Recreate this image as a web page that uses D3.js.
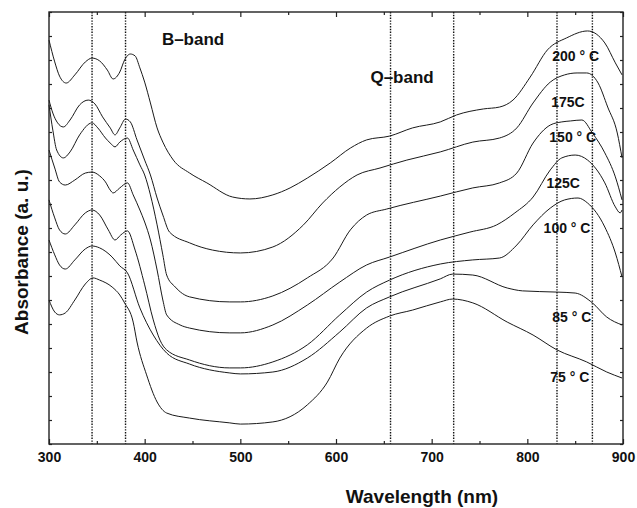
<!DOCTYPE html>
<html>
<head>
<meta charset="utf-8">
<script src="https://cdn.jsdelivr.net/npm/d3@7"></script>
<style>
  body { margin: 0; background: #fff; }
  text { font-family: "Liberation Sans", Arial, sans-serif; font-weight: bold; fill: #111; }
</style>
</head>
<body>
<svg width="637" height="508"></svg>
<script>
// spectra: [wavelength nm, absorbance a.u. (offset stacked)]
const s200 = [[300,16.83],[306,15.92],[311,15.33],[318,15.04],[327,15.38],[338,15.92],[345,16.08],[353,15.96],[361,15.58],[367,15.21],[374,15.5],[379,16.0],[385,16.25],[390,16.17],[395,15.67],[400,15.08],[406,14.21],[413,13.17],[419,12.58],[430,11.83],[447,11.29],[465,10.88],[492,10.29],[510,10.21],[534,10.38],[552,10.67],[570,11.08],[594,11.71],[615,12.33],[632,12.67],[656,12.83],[680,13.17],[709,13.42],[726,13.71],[754,13.96],[771,14.04],[785,14.33],[803,15.29],[821,16.42],[841,16.92],[863,17.21],[881,16.71],[892,15.88],[899,15.38]];
const s175 = [[300,14.33],[302,14.04],[304,13.79],[309,13.38],[315,13.21],[322,13.5],[332,14.13],[341,14.33],[348,14.17],[356,13.63],[364,13.17],[369,12.88],[374,13.17],[380,13.54],[385,13.42],[392,12.67],[400,11.83],[406,11.21],[413,10.25],[419,9.54],[426,8.83],[447,8.38],[471,8.08],[500,7.96],[534,8.21],[566,9.13],[586,10.04],[604,10.71],[622,11.21],[646,11.5],[674,11.83],[709,12.17],[743,12.58],[771,12.75],[789,13.17],[806,14.21],[824,15.08],[839,15.38],[852,15.46],[862,15.46],[874,15.04],[884,14.04],[894,12.96],[899,11.92]];
const s150 = [[300,14.13],[304,13.08],[308,12.25],[315,11.92],[322,12.17],[332,12.88],[345,13.38],[351,13.17],[359,12.75],[364,12.54],[369,12.38],[374,12.58],[382,12.75],[388,12.25],[395,11.63],[400,11.21],[406,10.38],[413,9.13],[419,7.88],[423,7.04],[432,6.54],[447,6.13],[489,5.92],[500,5.92],[534,6.17],[570,6.92],[597,7.75],[615,8.92],[632,9.54],[653,9.79],[709,10.33],[743,10.67],[771,10.88],[789,11.29],[806,12.54],[824,13.29],[836,13.42],[845,13.46],[857,13.5],[868,12.96],[881,12.13],[892,11.13],[899,10.17]];
const s125 = [[300,12.25],[306,11.5],[311,10.92],[317,10.79],[327,11.0],[338,11.29],[345,11.33],[353,11.17],[359,10.92],[364,10.58],[367,10.46],[374,10.67],[382,10.88],[388,10.38],[395,9.75],[400,9.25],[406,8.5],[413,7.25],[419,6.0],[423,5.38],[437,4.96],[447,4.83],[489,4.63],[500,4.63],[534,4.96],[570,5.79],[604,6.75],[632,7.46],[656,7.79],[709,8.5],[740,8.83],[768,9.13],[787,9.63],[806,10.29],[824,11.42],[836,11.92],[850,12.04],[863,11.83],[881,10.88],[892,9.88],[897,9.63],[899,9.75]];
const s100 = [[300,10.17],[306,9.42],[311,8.92],[317,8.75],[327,9.13],[338,9.63],[345,9.75],[353,9.54],[362,8.92],[369,8.5],[375,8.71],[382,8.88],[390,8.08],[400,6.63],[409,5.17],[416,4.33],[423,3.92],[447,3.5],[489,3.17],[500,3.17],[534,3.42],[570,4.13],[604,5.38],[632,6.33],[656,6.83],[709,7.5],[743,7.67],[771,7.75],[789,8.29],[806,9.13],[824,9.83],[839,10.17],[853,10.25],[863,10.04],[881,9.04],[892,7.96],[899,6.96]];
const s85 = [[300,8.5],[306,7.88],[311,7.46],[317,7.29],[327,7.67],[338,8.13],[345,8.25],[353,8.17],[366,7.79],[374,7.42],[382,7.13],[395,5.67],[409,4.54],[423,3.79],[447,3.33],[489,2.96],[500,2.92],[534,3.0],[570,3.58],[604,4.67],[632,5.67],[656,6.13],[709,6.88],[722,7.08],[743,7.04],[779,6.5],[795,6.38],[831,6.33],[850,6.29],[868,5.88],[883,5.29],[899,4.96]];
const s75 = [[300,6.0],[306,5.5],[311,5.38],[317,5.46],[327,6.0],[338,6.67],[346,6.92],[353,6.83],[366,6.54],[374,6.21],[379,5.88],[388,5.08],[392,4.25],[402,2.88],[413,1.75],[423,1.29],[447,1.08],[489,0.88],[500,0.83],[534,0.92],[570,1.63],[591,2.58],[604,3.58],[632,4.83],[656,5.33],[680,5.58],[709,5.92],[722,6.04],[743,5.88],[779,5.08],[806,4.54],[831,3.92],[862,3.42],[883,3.0],[899,2.75]];

// dotted band positions (nm)
const bandLines = [345, 380, 657, 723, 831, 868];

// curve labels: text + anchor position in data units
const curveLabels = [
  { t: "200 ° C", wl: 826, ab: 15.96 },
  { t: "175C",    wl: 825, ab: 14.04 },
  { t: "150 ° C", wl: 823, ab: 12.58 },
  { t: "125C",    wl: 820, ab: 10.67 },
  { t: "100 ° C", wl: 817, ab: 8.79 },
  { t: "85 ° C",  wl: 826, ab: 5.08 },
  { t: "75 ° C",  wl: 824, ab: 2.58 }
];
const bandLabels = [
  { t: "B\u2013band", wl: 418, ab: 16.63 },
  { t: "Q\u2013band", wl: 636, ab: 15.04 }
];
const xTickLabels = [300, 400, 500, 600, 700, 800, 900];

const svg = d3.select("svg"),
  margin = { top: 12, right: 14, bottom: 64, left: 49 },
  width = 637 - margin.left - margin.right,
  height = 508 - margin.top - margin.bottom;

const x = d3.scaleLinear().domain([300, 900]).range([0, width]),
  y = d3.scaleLinear().domain([0, 18]).range([height, 0]);

const g = svg.append("g")
  .attr("transform", "translate(" + margin.left + "," + margin.top + ")");

// dotted band markers
g.selectAll(".band")
  .data(bandLines)
  .enter().append("line")
  .attr("x1", d => x(d)).attr("x2", d => x(d))
  .attr("y1", 0).attr("y2", height)
  .attr("stroke", "#111")
  .attr("stroke-width", 1.4)
  .attr("stroke-dasharray", "1.4,1.4");

// spectra
const line = d3.line()
  .x(d => x(d[0]))
  .y(d => y(d[1]))
  .curve(d3.curveMonotoneX);

g.selectAll(".spec")
  .data([s200, s175, s150, s125, s100, s85, s75])
  .enter().append("path")
  .attr("class", "spec")
  .attr("fill", "none")
  .attr("stroke", "#1a1a1a")
  .attr("stroke-width", 1)
  .attr("d", line);

// inward ticks on all four sides
const tickStyle = sel => {
  sel.select(".domain").remove();
  sel.selectAll("line").attr("stroke", "#222").attr("stroke-width", 1.2);
  sel.selectAll("text").remove();
};
const major = d3.range(300, 901, 100), minor = d3.range(350, 900, 100);
g.append("g").attr("transform", "translate(0," + height + ")")
  .call(d3.axisTop(x).tickValues(major).tickSize(5)).call(tickStyle);
g.append("g").attr("transform", "translate(0," + height + ")")
  .call(d3.axisTop(x).tickValues(minor).tickSize(3)).call(tickStyle);
g.append("g")
  .call(d3.axisBottom(x).tickValues(major).tickSize(5)).call(tickStyle);
g.append("g")
  .call(d3.axisBottom(x).tickValues(minor).tickSize(3)).call(tickStyle);
g.append("g")
  .call(d3.axisRight(y).ticks(18).tickSize(3)).call(tickStyle);
g.append("g").attr("transform", "translate(" + width + ",0)")
  .call(d3.axisLeft(y).ticks(18).tickSize(3)).call(tickStyle);

// x tick labels
const xl = g.append("g").attr("transform", "translate(0," + height + ")")
  .call(d3.axisBottom(x).tickValues(xTickLabels).tickSize(0).tickPadding(8));
xl.select(".domain").remove();
xl.selectAll("text").style("font-size", "14px").style("font-weight", "bold")
  .style("font-family", '"Liberation Sans", Arial, sans-serif').attr("fill", "#111");

// frame
g.append("rect")
  .attr("width", width).attr("height", height)
  .attr("fill", "none").attr("stroke", "#222").attr("stroke-width", 1.4);

// labels
g.selectAll(".clab")
  .data(curveLabels)
  .enter().append("text")
  .attr("x", d => x(d.wl)).attr("y", d => y(d.ab))
  .style("font-size", "14px")
  .text(d => d.t);

g.selectAll(".blab")
  .data(bandLabels)
  .enter().append("text")
  .attr("x", d => x(d.wl)).attr("y", d => y(d.ab))
  .style("font-size", "17px")
  .text(d => d.t);

// axis titles
svg.append("text")
  .attr("x", 422).attr("y", 503)
  .attr("text-anchor", "middle")
  .style("font-size", "19px")
  .text("Wavelength (nm)");

svg.append("text")
  .attr("transform", "translate(28,252) rotate(-90)")
  .attr("text-anchor", "middle")
  .style("font-size", "19px")
  .text("Absorbance (a. u.)");
</script>
</body>
</html>
